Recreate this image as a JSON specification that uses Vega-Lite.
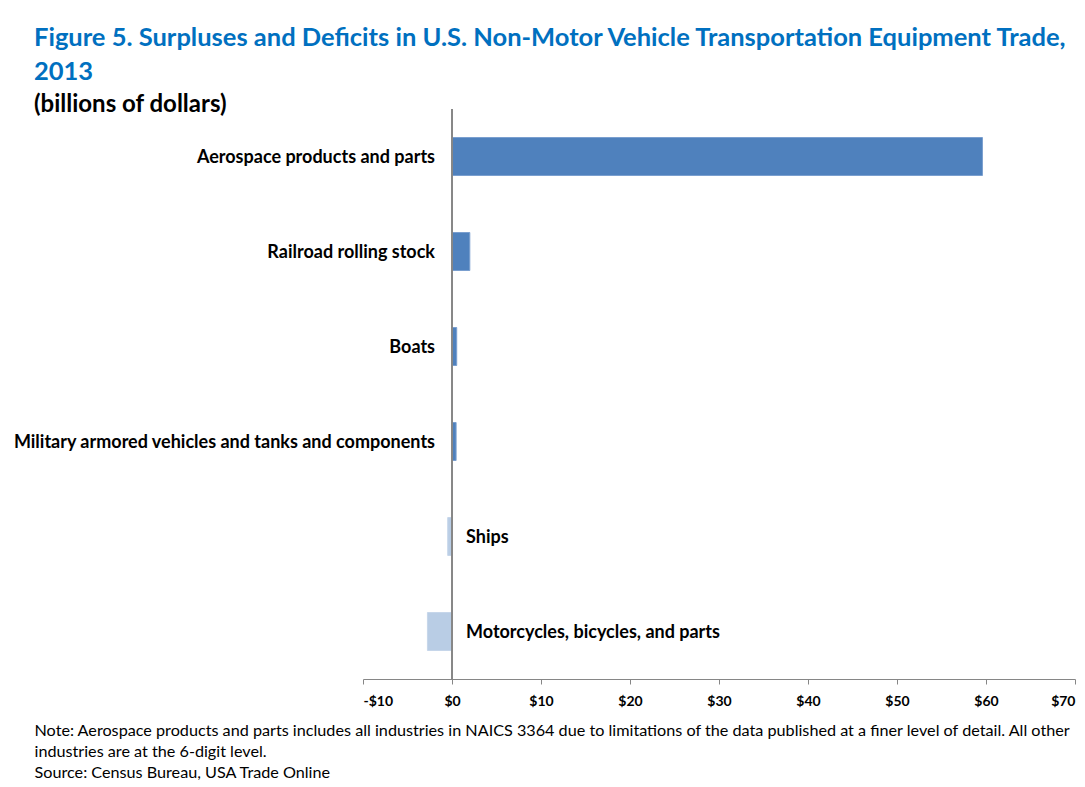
{
  "$schema": "https://vega.github.io/schema/vega-lite/v6.json",
  "autosize": "none",
  "padding": {"left": 363, "top": 109, "right": 10, "bottom": 108},
  "width": 712,
  "height": 570,
  "background": "white",
  "title": {
    "text": ["Figure 5. Surpluses and Deficits in U.S. Non-Motor Vehicle Transportation Equipment Trade,", "2013"],
    "subtitle": "(billions of dollars)",
    "anchor": "start",
    "frame": "group",
    "dx": -329,
    "dy": 8,
    "offset": 0,
    "font": "Lato",
    "fontSize": 25.5,
    "fontWeight": "bold",
    "color": "#0070C0",
    "lineHeight": 34,
    "subtitleFont": "Lato",
    "subtitleFontSize": 24,
    "subtitleFontWeight": "bold",
    "subtitleColor": "#000000",
    "subtitlePadding": 7
  },
  "data": {
    "values": [
      {"industry": "Aerospace products and parts", "value": 59.6},
      {"industry": "Railroad rolling stock", "value": 2.0},
      {"industry": "Boats", "value": 0.53},
      {"industry": "Military armored vehicles and tanks and components", "value": 0.46},
      {"industry": "Ships", "value": -0.48},
      {"industry": "Motorcycles, bicycles, and parts", "value": -2.76}
    ]
  },
  "encoding": {
    "y": {
      "field": "industry",
      "type": "nominal",
      "sort": null,
      "scale": {"paddingInner": 0.6, "paddingOuter": 0.3},
      "axis": null
    }
  },
  "layer": [
    {
      "mark": {"type": "bar", "strokeWidth": 1},
      "encoding": {
        "x": {
          "field": "value",
          "type": "quantitative",
          "scale": {"domain": [-10, 70], "nice": false},
          "axis": {
            "values": [-10, 0, 10, 20, 30, 40, 50, 60, 70],
            "labelExpr": "datum.value < 0 ? '-$' + abs(datum.value) : '$' + datum.value",
            "grid": false,
            "domainColor": "#868686",
            "tickColor": "#868686",
            "tickSize": 5,
            "labelPadding": 10,
            "labelFont": "Lato",
            "labelFontSize": 14,
            "labelFontWeight": "bold",
            "labelColor": "#000000",
            "title": ["Note: Aerospace products and parts includes all industries in NAICS 3364 due to limitations of the data published at a finer level of detail. All other", "industries are at the 6-digit level.", "Source: Census Bureau, USA Trade Online"],
            "titleX": -329,
            "titleY": 56,
            "titleAlign": "left",
            "titleAnchor": "start",
            "titleBaseline": "alphabetic",
            "titleFont": "Lato",
            "titleFontSize": 16.2,
            "titleFontWeight": "normal",
            "titleColor": "#000000",
            "titleLineHeight": 21
          }
        },
        "color": {
          "condition": {"test": "datum.value < 0", "value": "#B9CDE5"},
          "value": "#4F81BD"
        },
        "stroke": {
          "condition": {"test": "datum.value < 0", "value": "#C6D6EA"},
          "value": "#7A9FCF"
        }
      }
    },
    {
      "mark": {"type": "rule", "color": "#868686", "strokeWidth": 1},
      "encoding": {"x": {"datum": 0}, "y": null}
    },
    {
      "transform": [{"filter": "datum.value >= 0"}],
      "mark": {"type": "text", "align": "right", "baseline": "middle", "dx": -17, "dy": 1, "font": "Lato", "fontSize": 18, "fontWeight": "bold", "color": "#000000"},
      "encoding": {"x": {"datum": 0}, "text": {"field": "industry"}}
    },
    {
      "transform": [{"filter": "datum.value < 0"}],
      "mark": {"type": "text", "align": "left", "baseline": "middle", "dx": 14, "dy": 1, "font": "Lato", "fontSize": 18, "fontWeight": "bold", "color": "#000000"},
      "encoding": {"x": {"datum": 0}, "text": {"field": "industry"}}
    }
  ],
  "config": {"view": {"stroke": null}}
}
